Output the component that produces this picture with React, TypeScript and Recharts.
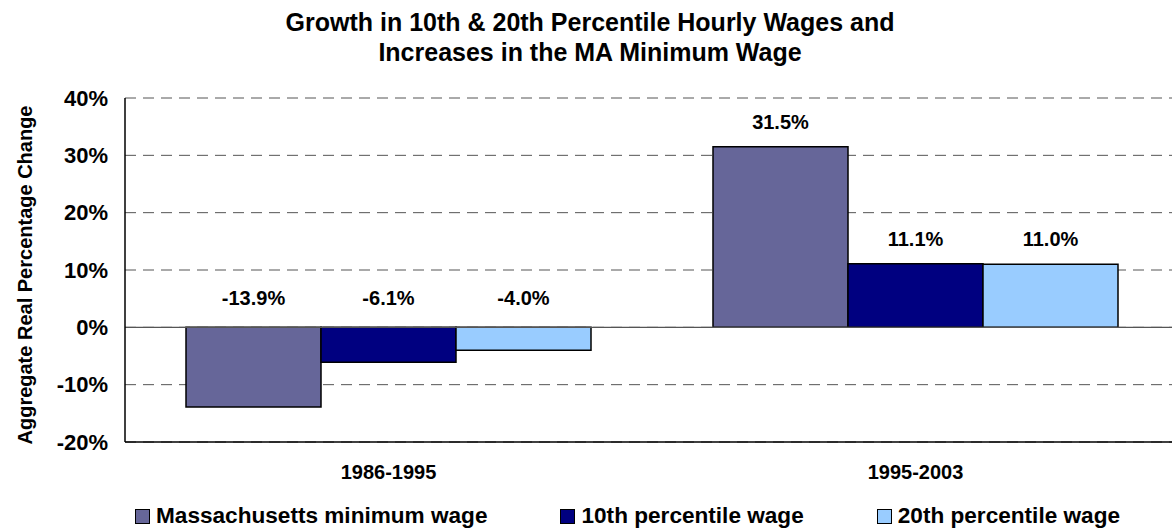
import { Bar, BarChart, CartesianGrid, LabelList, ReferenceLine, XAxis, YAxis } from 'recharts'

const periods = ['1986-1995', '1995-2003']
const maMinimumWage = [-13.9, 31.5]
const p10Wage = [-6.1, 11.1]
const p20Wage = [-4.0, 11.0]
const yTicks = [-20, -10, 0, 10, 20, 30, 40]

const seriesNames = ['Massachusetts minimum wage', '10th percentile wage', '20th percentile wage']
const seriesColors = ['#666699', '#000080', '#99ccff']

const data = periods.map((period, i) => ({
  period,
  ma: maMinimumWage[i],
  p10: p10Wage[i],
  p20: p20Wage[i],
}))

const font = '"Liberation Sans", Arial, sans-serif'

const BarValue = (props: any) => {
  const { x, y, width, height, value } = props
  const top = Math.min(y, y + height)
  const dy = value >= 0 ? 25 : 29
  return (
    <text
      x={x + width / 2}
      y={top - dy}
      textAnchor="middle"
      dominantBaseline="central"
      fontFamily={font}
      fontWeight="bold"
      fontSize={20}
      fill="#000"
    >
      {value.toFixed(1)}%
    </text>
  )
}

export default function App() {
  const keys = ['ma', 'p10', 'p20']
  return (
    <div
      style={{
        position: 'absolute',
        left: 0,
        top: 0,
        width: 1172,
        height: 529,
        overflow: 'hidden',
        background: '#fff',
        fontFamily: font,
      }}
    >
      <div
        style={{
          position: 'absolute',
          left: 0,
          width: 1180,
          top: 7,
          textAlign: 'center',
          fontSize: 25,
          fontWeight: 'bold',
          lineHeight: '30px',
        }}
      >
        <div>Growth in 10th &amp; 20th Percentile Hourly Wages and</div>
        <div>Increases in the MA Minimum Wage</div>
      </div>

      <div
        style={{
          position: 'absolute',
          left: 25,
          top: 275,
          transform: 'translate(-50%, -50%) rotate(-90deg)',
          whiteSpace: 'nowrap',
          fontSize: 20,
          fontWeight: 'bold',
        }}
      >
        Aggregate Real Percentage Change
      </div>

      <BarChart
        width={1179}
        height={529}
        data={data}
        margin={{ top: 98, right: 0, bottom: 0, left: 0 }}
        barCategoryGap={61}
        barGap={0}
      >
        <CartesianGrid vertical={false} stroke="#555" strokeDasharray="11 7" />
        <XAxis
          dataKey="period"
          height={87}
          axisLine={{ stroke: '#000', strokeWidth: 1.5 }}
          tickLine={false}
          tickMargin={17}
          tick={{ fontSize: 20, fontWeight: 'bold', fill: '#000', fontFamily: font }}
        />
        <YAxis
          width={125}
          domain={[-20, 40]}
          ticks={yTicks}
          tickFormatter={(v: number) => `${v}%`}
          axisLine={{ stroke: '#000', strokeWidth: 1.5 }}
          tickLine={false}
          tickMargin={11}
          tick={{ fontSize: 22, fontWeight: 'bold', fill: '#000', fontFamily: font }}
        />
        <ReferenceLine y={0} stroke="#555" strokeWidth={1.2} />
        {keys.map((k, i) => (
          <Bar
            key={k}
            dataKey={k}
            name={seriesNames[i]}
            fill={seriesColors[i]}
            stroke="#000"
            strokeWidth={1.5}
            isAnimationActive={false}
          >
            <LabelList dataKey={k} content={<BarValue />} />
          </Bar>
        ))}
      </BarChart>

      <div
        style={{
          position: 'absolute',
          left: 135,
          top: 516,
          transform: 'translateY(-50%)',
          display: 'flex',
          alignItems: 'center',
          gap: 73,
          fontSize: 22.6,
          fontWeight: 'bold',
          whiteSpace: 'nowrap',
        }}
      >
        {seriesNames.map((name, i) => (
          <div key={name} style={{ display: 'flex', alignItems: 'center' }}>
            <span
              style={{
                display: 'inline-block',
                width: 13,
                height: 13,
                background: seriesColors[i],
                border: '1px solid #000',
                marginRight: 6,
              }}
            />
            <span>{name}</span>
          </div>
        ))}
      </div>
    </div>
  )
}
